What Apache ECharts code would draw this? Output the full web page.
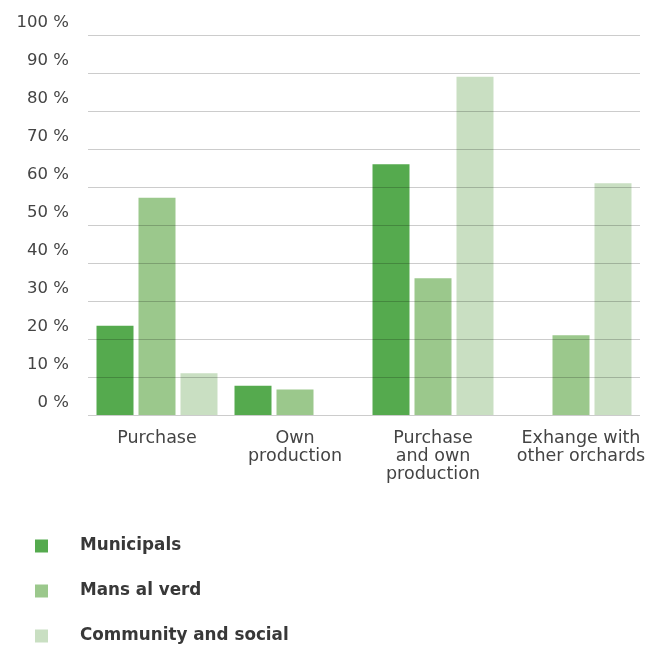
<!DOCTYPE html>
<html><head><meta charset="utf-8">
<script src="https://cdn.jsdelivr.net/npm/echarts@6/dist/echarts.min.js"></script>
<style>html,body{margin:0;padding:0;background:#fff}#c{width:669px;height:645px}</style>
</head><body><div id="c"></div>
<script>
const categories = ['Purchase', 'Own\nproduction', 'Purchase\nand own\nproduction', 'Exhange with\nother orchards'];
const seriesNames = ['Municipals', 'Mans al verd', 'Community and social'];
const municipals = [23.5, 7.7, 66, null];
const mansAlVerd = [57.2, 6.7, 36, 21];
const community = [11, null, 89, 61];
const yTicks = [0, 10, 20, 30, 40, 50, 60, 70, 80, 90, 100];
const colors = ['#55aa4e', '#9bc88c', '#c9dfc2'];

const chart = echarts.init(document.getElementById('c'), null, {renderer: 'canvas'});
const font = 'DejaVu Sans';
chart.setOption({
  animation: false,
  color: colors,
  grid: {left: 88, right: 29, top: 35, height: 380},
  legend: {
    orient: 'vertical', left: 30, top: 531, height: 114,
    itemWidth: 13, itemHeight: 13, itemGap: 25,
    icon: 'rect',
    textStyle: {fontFamily: font, fontWeight: 'bold', fontSize: 16.8, color: '#383838', padding: [0, 0, 0, 27], lineHeight: 20},
    data: seriesNames
  },
  xAxis: {
    type: 'category',
    data: categories.map((c, i) => i === 3 ? {value: c, textStyle: {padding: [0, 0, 0, 20]}} : c),
    axisLine: {show: false}, axisTick: {show: false},
    axisLabel: {fontFamily: font, fontSize: 17.5, color: '#444', lineHeight: 18, margin: 14, interval: 0}
  },
  yAxis: {
    type: 'value', min: 0, max: 100, interval: 10, z: 5,
    axisLine: {show: false}, axisTick: {show: false},
    splitLine: {lineStyle: {color: 'rgba(0,0,0,0.2)', width: 1}},
    axisLabel: {
      fontFamily: font, fontSize: 16.5, color: '#444', margin: 19,
      verticalAlign: 'bottom', padding: [0, 0, 4, 0],
      formatter: v => yTicks.includes(v) ? v + ' %' : ''
    }
  },
  series: [
    {name: seriesNames[0], type: 'bar', data: municipals, barWidth: 37, barGap: '13.5%'},
    {name: seriesNames[1], type: 'bar', data: mansAlVerd, barWidth: 37, barGap: '13.5%'},
    {name: seriesNames[2], type: 'bar', data: community, barWidth: 37, barGap: '13.5%'}
  ]
});
</script></body></html>
